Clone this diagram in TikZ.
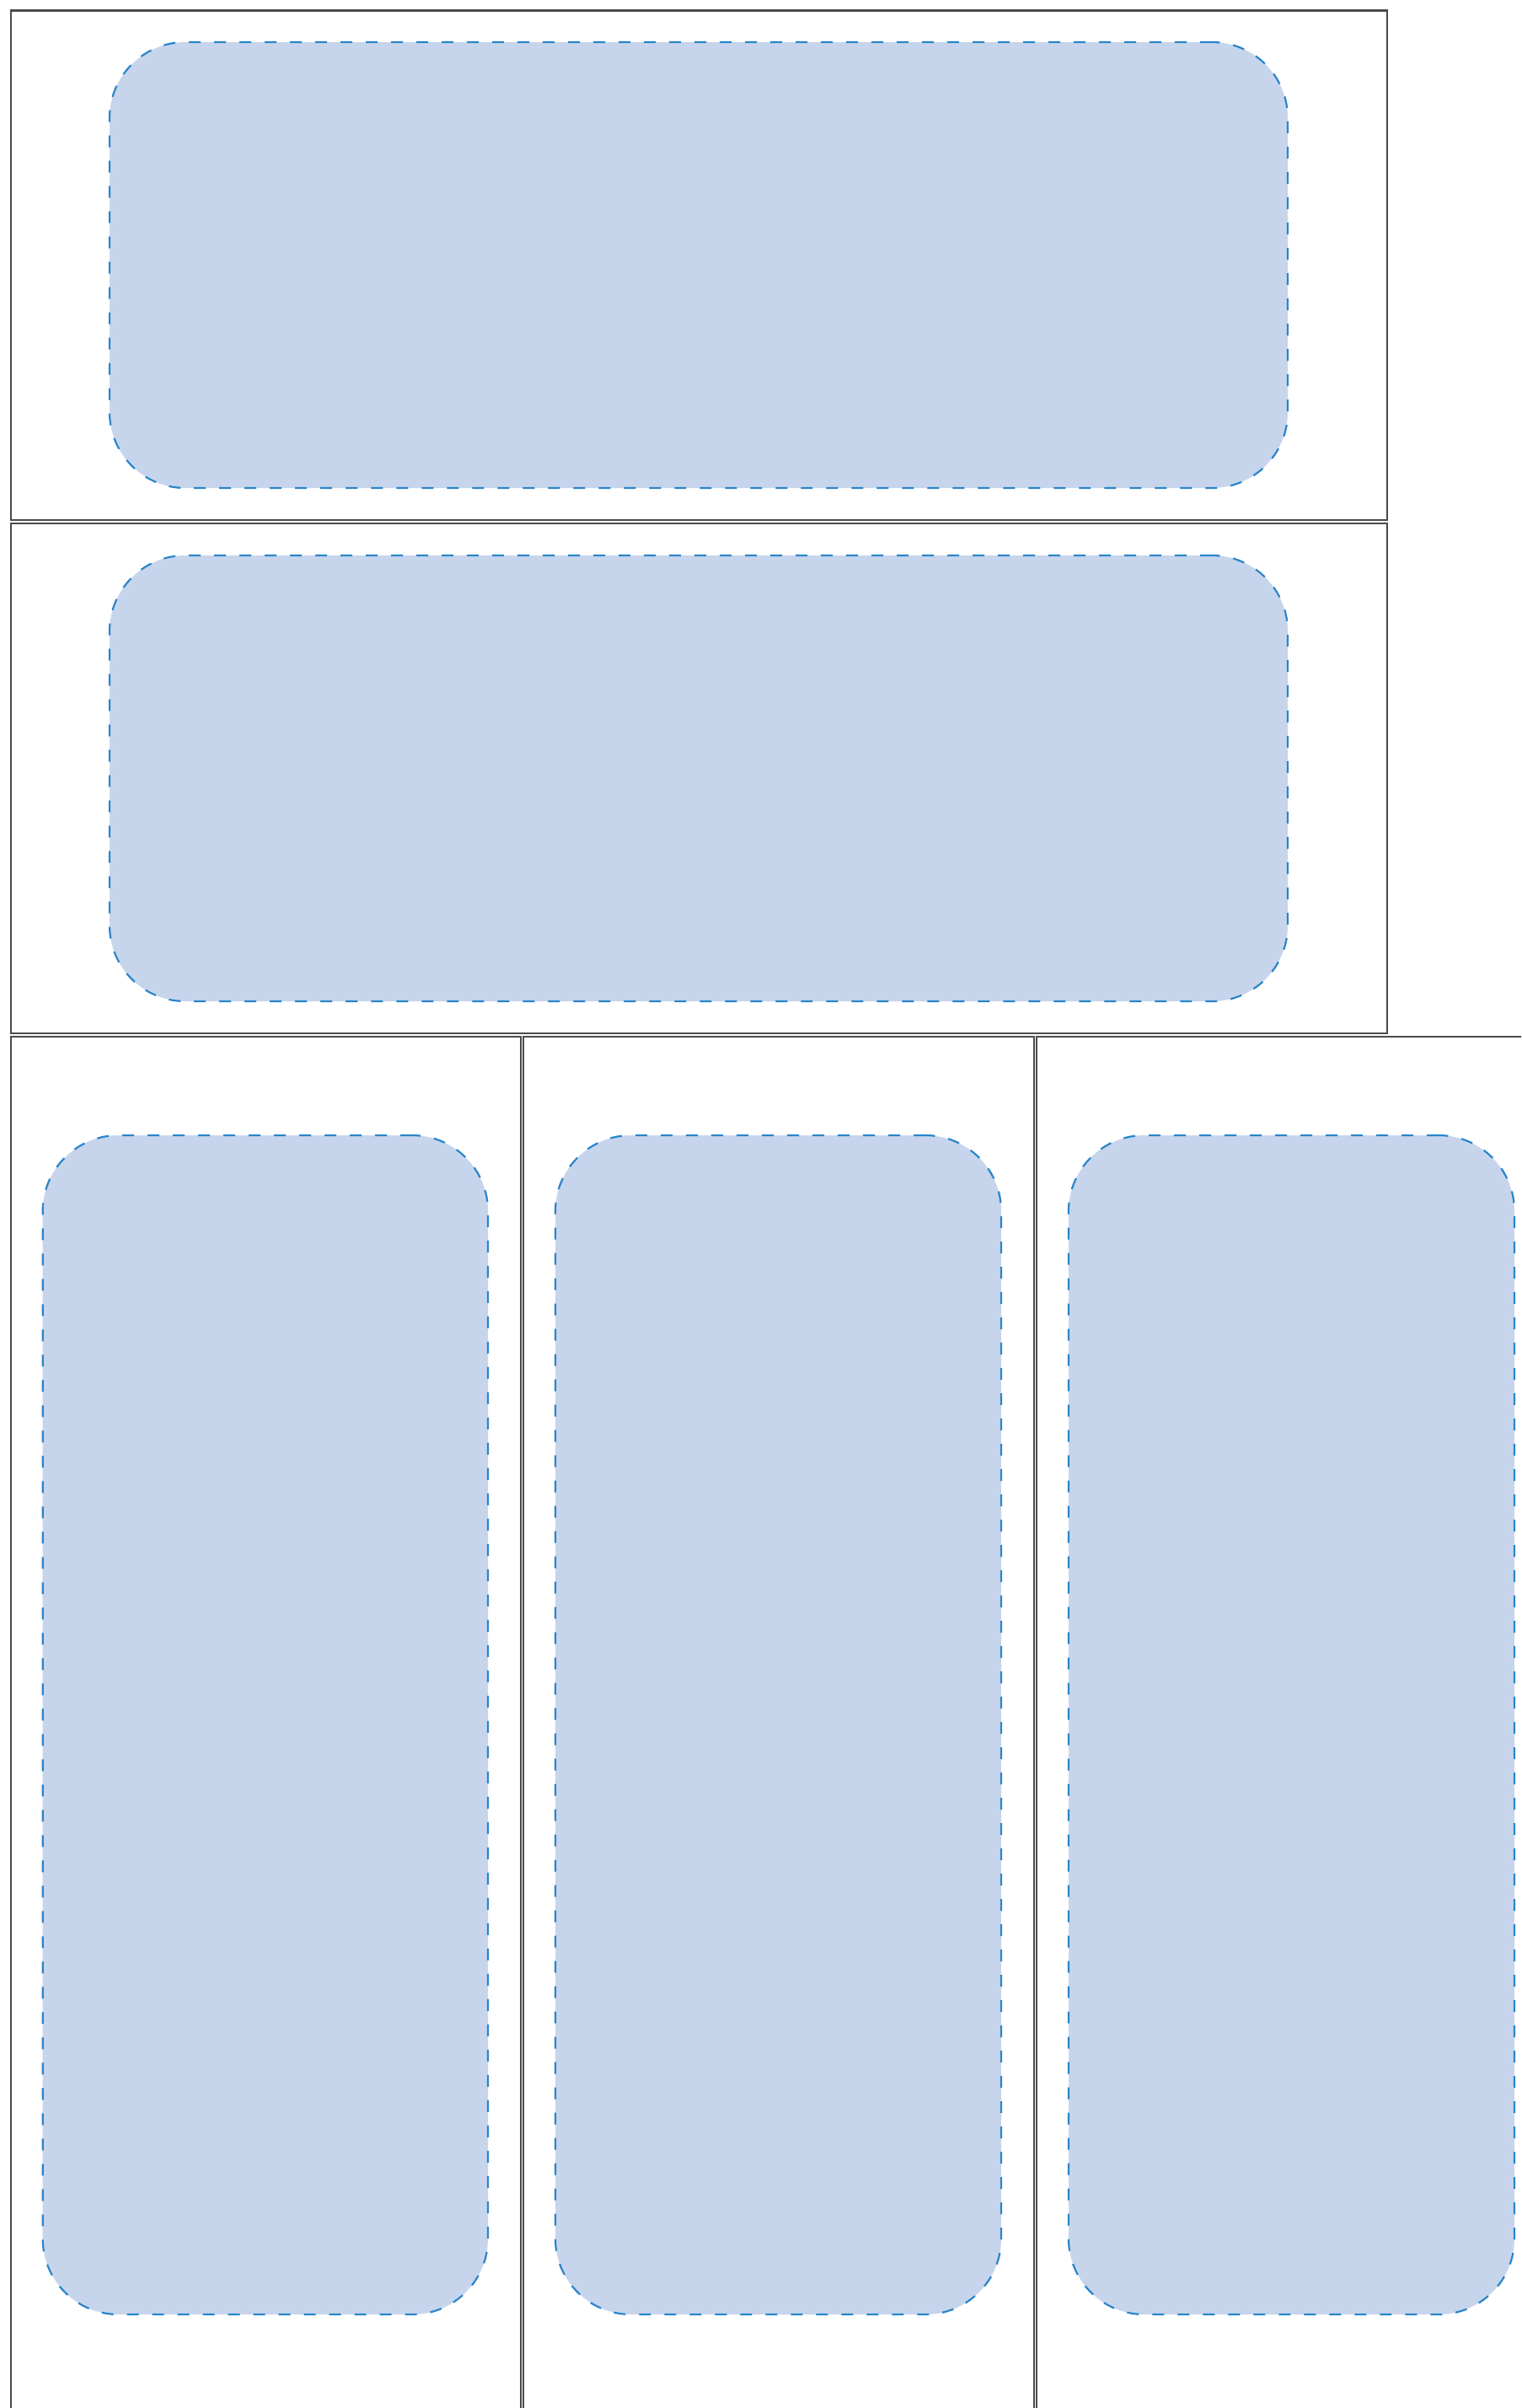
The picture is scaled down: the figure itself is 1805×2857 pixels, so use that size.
\documentclass[tikz,border=0pt]{standalone}
\definecolor{panelline}{HTML}{4A4A4A}
\definecolor{boxfill}{HTML}{C7D5EC}
\definecolor{boxline}{HTML}{2A85CA}
\begin{document}
\begin{tikzpicture}[x=1pt,y=-1pt,
  panel/.style={draw=panelline, line width=2.2pt, rectangle, inner sep=0pt, outer sep=0pt, anchor=north west},
  zone/.style={draw=boxline, fill=boxfill, line width=2.2pt, dash pattern=on 14pt off 16pt, rounded corners=90pt, rectangle, inner sep=0pt, outer sep=0pt, anchor=north west}]
\useasboundingbox (0,0) rectangle (1805,2857);
\clip (0,0) rectangle (1805,2857);
% horizontal panels
\node[panel, minimum width=1633pt, minimum height=604.5pt] (p1) at (13,12.5) {};
\node[panel, minimum width=1633pt, minimum height=605pt] (p2) at (13,621) {};
% vertical panels
\node[panel, minimum width=604.7pt, minimum height=1633pt] (p3) at (13,1230) {};
\node[panel, minimum width=605.7pt, minimum height=1633pt] (p4) at (621,1230) {};
\node[panel, minimum width=605pt, minimum height=1633pt] (p5) at (1230,1230) {};
% rounded zones
\node[zone, minimum width=1398pt, minimum height=529pt] (z1) at (130,50) {};
\node[zone, minimum width=1398pt, minimum height=529pt] (z2) at (130,659) {};
\node[zone, minimum width=528.3pt, minimum height=1399pt] (z3) at (50.7,1347) {};
\node[zone, minimum width=529pt, minimum height=1399pt] (z4) at (659,1347) {};
\node[zone, minimum width=529pt, minimum height=1399pt] (z5) at (1268,1347) {};
\end{tikzpicture}
\end{document}
